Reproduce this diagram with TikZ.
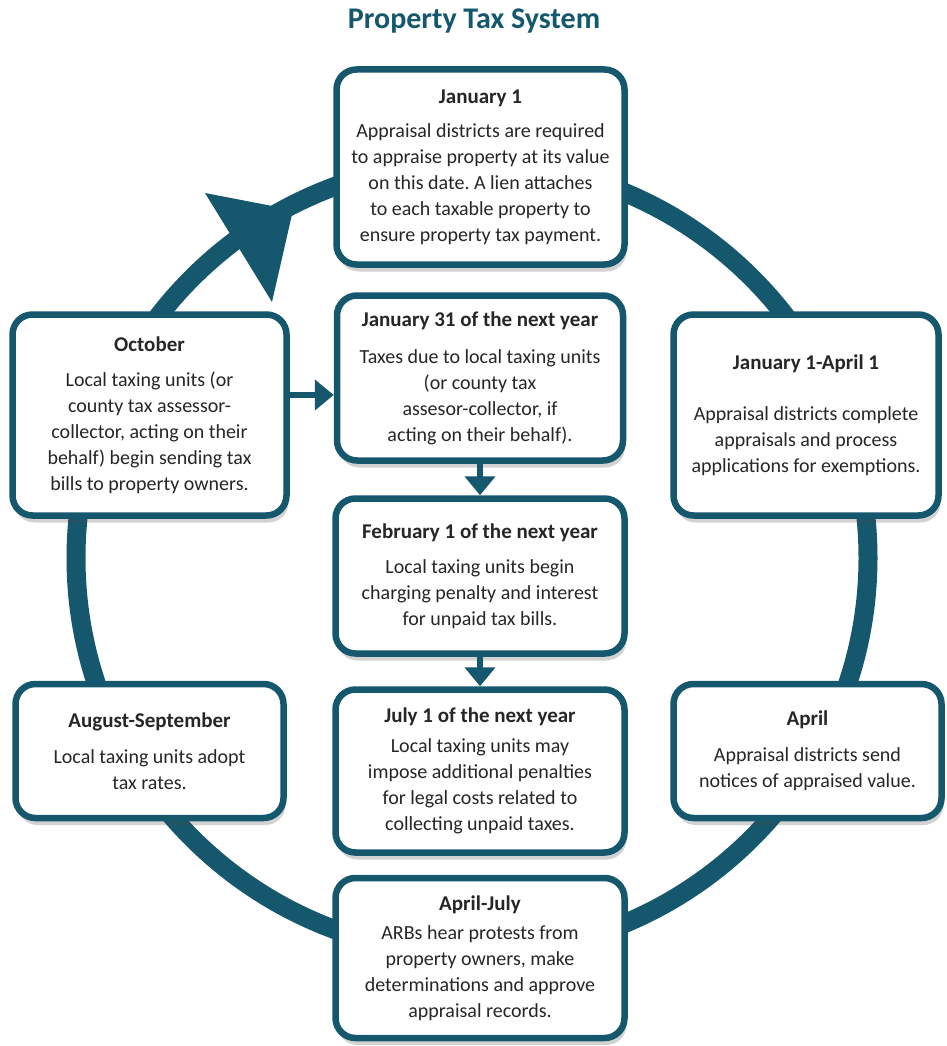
\documentclass[tikz,border=0pt]{standalone}
\usepackage{fontspec}
\setmainfont{Carlito}
\usetikzlibrary{arrows.meta,shadows}
\definecolor{taxteal}{HTML}{15586E}
\definecolor{inkgray}{HTML}{262626}
\newcommand\when[1]{{\fontsize{21}{26}\selectfont\bfseries #1}}
\frenchspacing
\begin{document}
\begin{tikzpicture}[
		x=1pt, y=-1pt,
		stage/.style={draw=taxteal, line width=6.5pt, rounded corners=20pt, fill=white,
				drop shadow={shadow xshift=2pt, shadow yshift=-7pt, opacity=0.25, fill=black!70},
				align=center, text=inkgray, inner sep=0pt, font=\fontsize{20}{26}\selectfont},
		flow/.style={draw=taxteal, line width=6pt, -{Triangle[width=30pt,length=19pt]}}
	]
	\useasboundingbox (0,0) rectangle (947,1046);
	\draw[taxteal, line width=19pt] (472,558) circle[radius=396pt];
	\fill[taxteal] (205,193) -- (293,210) -- (272,302) -- cycle;
	\node[text=taxteal, font=\fontsize{30}{36}\selectfont\bfseries] (title) at (474,21) {Property Tax System};
	\node[stage, minimum width=288pt, minimum height=195pt] (jan1) at (480.5,167) {
		\when{January 1}\\[8pt]
		Appraisal districts are required\\
		to appraise property at its value\\
		on this date. A lien attaches\\
		to each taxable property to\\
		ensure property tax payment.};
	\node[stage, minimum width=286pt, minimum height=165pt] (jan31) at (480,378) {
		\when{January 31 of the next year}\\[11pt]
		Taxes due to local taxing units\\
		(or county tax\\
		assesor-collector, if\\
		acting on their behalf).};
	\node[stage, minimum width=289pt, minimum height=155pt] (feb1) at (480,576) {
		\when{February 1 of the next year}\\[9pt]
		Local taxing units begin\\
		charging penalty and interest\\
		for unpaid tax bills.};
	\node[stage, minimum width=289pt, minimum height=163pt] (jul1) at (480,771) {
		\when{July 1 of the next year}\\[4pt]
		Local taxing units may\\
		impose additional penalties\\
		for legal costs related to\\
		collecting unpaid taxes.};
	\node[stage, minimum width=289pt, minimum height=160pt] (aprjul) at (480,958) {
		\when{April-July}\\[3pt]
		ARBs hear protests from\\
		property owners, make\\
		determinations and approve\\
		appraisal records.};
	\node[stage, minimum width=274pt, minimum height=201pt] (oct) at (149.5,415) {
		\when{October}\\[9pt]
		Local taxing units (or\\
		county tax assessor-\\
		collector, acting on their\\
		behalf) begin sending tax\\
		bills to property owners.};
	\node[stage, minimum width=265pt, minimum height=201pt] (janapr) at (806,415) {
		\when{January 1-April 1}\\[25pt]
		Appraisal districts complete\\
		appraisals and process\\
		applications for exemptions.};
	\node[stage, minimum width=268pt, minimum height=134pt] (augsep) at (149.5,751) {
		\when{August-September}\\[10pt]
		Local taxing units adopt\\
		tax rates.};
	\node[stage, minimum width=268pt, minimum height=134pt] (april) at (807.5,751) {
		\when{April}\\[10pt]
		Appraisal districts send\\
		notices of appraised value.};
	\draw[flow] ([yshift=20pt]oct.east) -- ([yshift=20pt]oct.east -| jan31.west);
	\draw[flow] (jan31) -- (feb1);
	\draw[flow] (feb1) -- (jul1);
\end{tikzpicture}
\end{document}
